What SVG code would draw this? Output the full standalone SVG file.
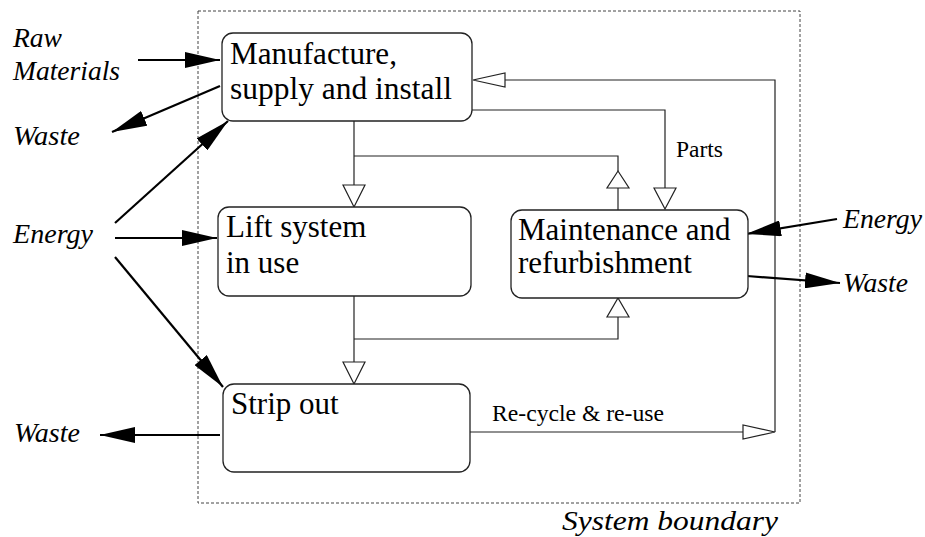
<svg xmlns="http://www.w3.org/2000/svg" width="925" height="537" viewBox="0 0 925 537">
<style>
.box{fill:#fff;stroke:#222;stroke-width:1.3}
.main{font-family:"Liberation Serif","Times New Roman",serif;font-size:31px;fill:#000}
.lbl{font-family:"Liberation Serif","Times New Roman",serif;font-size:24px;fill:#000}
.ext{font-family:"Liberation Serif","Times New Roman",serif;font-size:27px;font-style:italic;fill:#000}
.thin{fill:none;stroke:#222;stroke-width:1.2}
.tri{fill:#fff;stroke:#222;stroke-width:1.2}
.thick{fill:none;stroke:#000;stroke-width:2.2;marker-end:url(#ah)}
.bound{fill:none;stroke:#444;stroke-width:1;stroke-dasharray:3 2}
</style>
<defs>
<marker id="ah" viewBox="0 0 35 16" markerWidth="35" markerHeight="16" refX="35" refY="8" orient="auto" markerUnits="userSpaceOnUse">
<path d="M0,0 L35,8 L0,16 z" fill="#000"/>
</marker>
</defs>
<rect width="925" height="537" fill="#fff"/>
<g id="boundary">
<rect class="bound" x="198" y="11" width="602" height="492"/>
<text class="ext" x="562" y="530" textLength="216" lengthAdjust="spacingAndGlyphs">System boundary</text>
</g>
<g id="connectors">
<!-- Manufacture -> Lift, branch to Maintenance -->
<polyline class="thin" points="354,121 354,185"/>
<polygon class="tri" points="343,185 365,185 354,207"/>
<polyline class="thin" points="354,156 618,156 618,171"/>
<polygon class="tri" points="607,188 629,188 618,171"/>
<line class="thin" x1="618" y1="188" x2="618" y2="210"/>
<!-- Lift -> Strip, branch to Maintenance -->
<polyline class="thin" points="354,296 354,362"/>
<polygon class="tri" points="343,362 365,362 354,384"/>
<polyline class="thin" points="354,339 618,339 618,317"/>
<polygon class="tri" points="607,317 629,317 618,298"/>
<!-- Parts -->
<polyline class="thin" points="472,110 665,110 665,188"/>
<polygon class="tri" points="654,188 676,188 665,209"/>
<text class="lbl" x="676" y="157" textLength="47" lengthAdjust="spacingAndGlyphs">Parts</text>
<!-- Re-cycle & re-use loop -->
<polyline class="thin" points="470,432 743,432"/>
<polygon class="tri" points="743,425 743,439 775,432"/>
<polyline class="thin" points="775,432 775,80 505,80"/>
<polygon class="tri" points="505,73 505,87 473,80"/>
<text class="lbl" x="492" y="421" textLength="172" lengthAdjust="spacingAndGlyphs">Re-cycle &amp; re-use</text>
<!-- external flows -->
<line class="thick" x1="138" y1="60" x2="220" y2="60"/>
<line class="thick" x1="220" y1="86" x2="112" y2="132"/>
<line class="thick" x1="115" y1="223" x2="228" y2="121"/>
<line class="thick" x1="115" y1="238" x2="217" y2="238"/>
<line class="thick" x1="115" y1="257" x2="223" y2="387"/>
<line class="thick" x1="220" y1="435" x2="100" y2="435"/>
<line class="thick" x1="837" y1="219" x2="746" y2="234"/>
<line class="thick" x1="747" y1="276" x2="840" y2="283"/>
</g>
<g id="labels">
<text class="ext" x="13" y="47" textLength="49" lengthAdjust="spacingAndGlyphs">Raw</text>
<text class="ext" x="13" y="80" textLength="107" lengthAdjust="spacingAndGlyphs">Materials</text>
<text class="ext" x="13" y="145" textLength="67" lengthAdjust="spacingAndGlyphs">Waste</text>
<text class="ext" x="13" y="243" textLength="80" lengthAdjust="spacingAndGlyphs">Energy</text>
<text class="ext" x="14" y="442" textLength="66" lengthAdjust="spacingAndGlyphs">Waste</text>
<text class="ext" x="843" y="228" textLength="79" lengthAdjust="spacingAndGlyphs">Energy</text>
<text class="ext" x="843" y="292" textLength="65" lengthAdjust="spacingAndGlyphs">Waste</text>
</g>
<g id="node-manufacture">
<rect class="box" x="222" y="33" width="250" height="88" rx="11"/>
<text class="main" x="230" y="64" textLength="167" lengthAdjust="spacingAndGlyphs">Manufacture,</text>
<text class="main" x="230" y="99" textLength="222" lengthAdjust="spacingAndGlyphs">supply and install</text>
</g>
<g id="node-lift">
<rect class="box" x="218" y="207" width="253" height="89" rx="11"/>
<text class="main" x="226" y="237">Lift system</text>
<text class="main" x="226" y="273">in use</text>
</g>
<g id="node-maintenance">
<rect class="box" x="511" y="210" width="237" height="88" rx="11"/>
<text class="main" x="518" y="240">Maintenance and</text>
<text class="main" x="518" y="273">refurbishment</text>
</g>
<g id="node-strip">
<rect class="box" x="223" y="384" width="247" height="88" rx="11"/>
<text class="main" x="231" y="414">Strip out</text>
</g>
</svg>
